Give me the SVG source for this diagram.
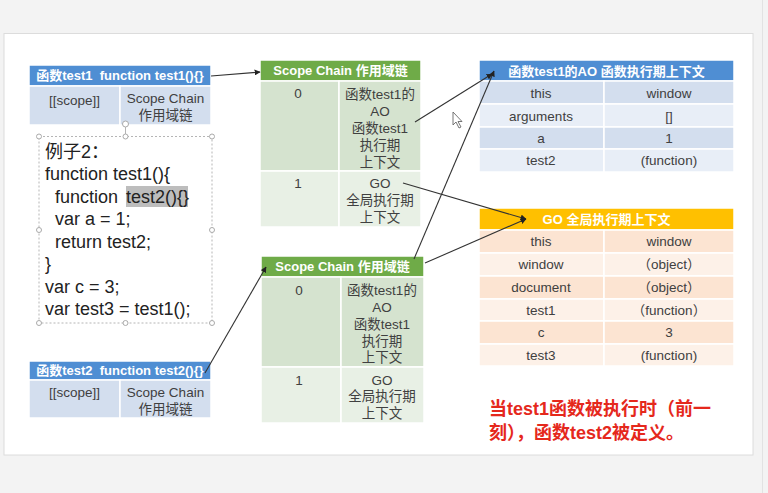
<svg xmlns="http://www.w3.org/2000/svg" width="768" height="493" viewBox="0 0 768 493">
<defs>
<marker id="ah" viewBox="0 0 10 10" refX="9" refY="5" markerWidth="6" markerHeight="6" markerUnits="userSpaceOnUse" orient="auto">
<path d="M0,0 L10,5 L0,10 Z" fill="#222"/>
</marker>
<style>
text{font-family:"Liberation Sans","Noto Sans CJK SC",sans-serif;}
.hd{fill:#fff;font-weight:bold;font-size:13px;text-anchor:middle;}
.bd{fill:#404040;font-size:13.5px;text-anchor:middle;}
.cell{stroke:#fff;stroke-width:1.5;}
.blueH{fill:#4f8ed3;}
.blueB{fill:#d3deee;}
.blueL{fill:#e8eef7;}
.greenH{fill:#6fab48;}
.green0{fill:#d5e3cf;}
.green1{fill:#e8f0e5;}
.orangeH{fill:#ffc000;}
.or0{fill:#fce4d2;}
.or1{fill:#fdf1e8;}
.code{fill:#222;font-size:18px;}
.conn{stroke:#333;stroke-width:1.1;fill:none;marker-end:url(#ah);}
.hdl{fill:#fff;stroke:#aaa;stroke-width:1;}
.red{fill:#e5281c;font-size:18px;font-weight:bold;}
</style>
</defs>
<rect x="0" y="0" width="768" height="493" fill="#f3f3f3"/>
<rect x="4" y="33.5" width="749" height="421.5" fill="#fff" stroke="#dcdcdc" stroke-width="1"/>
<line x1="762.5" y1="0" x2="762.5" y2="493" stroke="#e2e2e2" stroke-width="1"/>

<g id="func-test1">
<rect class="cell blueH" x="29" y="65" width="182" height="21"/>
<text class="hd" x="120" y="80">函数test1&#160;&#160;function test1(){}</text>
<rect class="cell blueB" x="29" y="86" width="91" height="39"/>
<rect class="cell blueB" x="120" y="86" width="91" height="39"/>
<text class="bd" x="74.5" y="105" font-size="13">[[scope]]</text>
<text class="bd" x="165.5" y="103" font-size="13">Scope Chain</text>
<text class="bd" x="165.5" y="120" font-size="13">作用域链</text>
</g>

<g id="code-box">
<rect x="39" y="136.5" width="173" height="186.5" fill="none" stroke="#b5b5b5" stroke-width="1" stroke-dasharray="2,2"/>
<line x1="125.5" y1="127" x2="125.5" y2="136.5" stroke="#b5b5b5" stroke-width="1"/>
<circle class="hdl" cx="125.5" cy="124" r="3"/>
<circle class="hdl" cx="39" cy="136.5" r="2.5"/>
<circle class="hdl" cx="125.5" cy="136.5" r="2.5"/>
<circle class="hdl" cx="212" cy="136.5" r="2.5"/>
<circle class="hdl" cx="39" cy="230" r="2.5"/>
<circle class="hdl" cx="212" cy="230" r="2.5"/>
<circle class="hdl" cx="39" cy="323" r="2.5"/>
<circle class="hdl" cx="125.5" cy="323" r="2.5"/>
<circle class="hdl" cx="212" cy="323" r="2.5"/>
<rect x="126" y="186" width="62" height="21" fill="#bdbdbd"/>
<text class="code" x="45" y="158">例子2：</text>
<text class="code" x="45" y="180">function test1(){</text>
<text class="code" x="55" y="203">function <tspan x="126">test2(){}</tspan></text>
<text class="code" x="55" y="225">var a = 1;</text>
<text class="code" x="55" y="248">return test2;</text>
<text class="code" x="45" y="270">}</text>
<text class="code" x="45" y="293">var c = 3;</text>
<text class="code" x="45" y="315">var test3 = test1();</text>
</g>

<g id="func-test2">
<rect class="cell blueH" x="29" y="361" width="182" height="19"/>
<text class="hd" x="120" y="375">函数test2&#160;&#160;function test2(){}</text>
<rect class="cell blueB" x="29" y="380" width="91" height="38"/>
<rect class="cell blueB" x="120" y="380" width="91" height="38"/>
<text class="bd" x="74.5" y="397" font-size="13">[[scope]]</text>
<text class="bd" x="165.5" y="397" font-size="13">Scope Chain</text>
<text class="bd" x="165.5" y="414" font-size="13">作用域链</text>
</g>

<g id="scope-chain-1">
<rect class="cell greenH" x="260" y="60" width="161" height="21"/>
<text class="hd" x="340.5" y="75">Scope Chain 作用域链</text>
<rect class="cell green0" x="260" y="81" width="79" height="90"/>
<rect class="cell green0" x="339" y="81" width="82" height="90"/>
<rect class="cell green1" x="260" y="171" width="79" height="56"/>
<rect class="cell green1" x="339" y="171" width="82" height="56"/>
<text class="bd" x="298" y="98">0</text>
<text class="bd" x="380" y="99">函数test1的</text>
<text class="bd" x="380" y="116">AO</text>
<text class="bd" x="380" y="133">函数test1</text>
<text class="bd" x="380" y="150">执行期</text>
<text class="bd" x="380" y="167">上下文</text>
<text class="bd" x="298" y="188">1</text>
<text class="bd" x="380" y="188">GO</text>
<text class="bd" x="380" y="205">全局执行期</text>
<text class="bd" x="380" y="222">上下文</text>
</g>

<g id="scope-chain-2">
<rect class="cell greenH" x="261" y="256" width="163" height="21"/>
<text class="hd" x="342.5" y="271">Scope Chain 作用域链</text>
<rect class="cell green0" x="261" y="277" width="80" height="90"/>
<rect class="cell green0" x="341" y="277" width="83" height="90"/>
<rect class="cell green1" x="261" y="367" width="80" height="56"/>
<rect class="cell green1" x="341" y="367" width="83" height="56"/>
<text class="bd" x="299" y="295">0</text>
<text class="bd" x="382" y="295">函数test1的</text>
<text class="bd" x="382" y="312">AO</text>
<text class="bd" x="382" y="329">函数test1</text>
<text class="bd" x="382" y="346">执行期</text>
<text class="bd" x="382" y="362">上下文</text>
<text class="bd" x="299" y="385">1</text>
<text class="bd" x="382" y="385">GO</text>
<text class="bd" x="382" y="401">全局执行期</text>
<text class="bd" x="382" y="418">上下文</text>
</g>

<g id="ao-test1">
<rect class="cell blueH" x="479" y="60" width="255" height="21"/>
<text class="hd" x="606.5" y="76" font-size="14">函数test1的AO 函数执行期上下文</text>
<rect class="cell blueB" x="479" y="81" width="125" height="23"/>
<rect class="cell blueB" x="604" y="81" width="130" height="23"/>
<rect class="cell blueL" x="479" y="104" width="125" height="23"/>
<rect class="cell blueL" x="604" y="104" width="130" height="23"/>
<rect class="cell blueB" x="479" y="127" width="125" height="22"/>
<rect class="cell blueB" x="604" y="127" width="130" height="22"/>
<rect class="cell blueL" x="479" y="149" width="125" height="23"/>
<rect class="cell blueL" x="604" y="149" width="130" height="23"/>
<text class="bd" x="541" y="98" font-size="14">this</text>
<text class="bd" x="669" y="98" font-size="14">window</text>
<text class="bd" x="541" y="121" font-size="14">arguments</text>
<text class="bd" x="669" y="121" font-size="14">[]</text>
<text class="bd" x="541" y="143" font-size="14">a</text>
<text class="bd" x="669" y="143" font-size="14">1</text>
<text class="bd" x="541" y="165" font-size="14">test2</text>
<text class="bd" x="669" y="165" font-size="14">(function)</text>
</g>

<g id="go">
<rect class="cell orangeH" x="479" y="208" width="255" height="22"/>
<text class="hd" x="606.5" y="224" font-size="15">GO 全局执行期上下文</text>
<rect class="cell or0" x="479" y="230" width="125" height="23"/>
<rect class="cell or0" x="604" y="230" width="130" height="23"/>
<rect class="cell or1" x="479" y="253" width="125" height="23"/>
<rect class="cell or1" x="604" y="253" width="130" height="23"/>
<rect class="cell or0" x="479" y="276" width="125" height="23"/>
<rect class="cell or0" x="604" y="276" width="130" height="23"/>
<rect class="cell or1" x="479" y="299" width="125" height="22"/>
<rect class="cell or1" x="604" y="299" width="130" height="22"/>
<rect class="cell or0" x="479" y="321" width="125" height="23"/>
<rect class="cell or0" x="604" y="321" width="130" height="23"/>
<rect class="cell or1" x="479" y="344" width="125" height="22"/>
<rect class="cell or1" x="604" y="344" width="130" height="22"/>
<text class="bd" x="541" y="246" font-size="14">this</text>
<text class="bd" x="669" y="246" font-size="14">window</text>
<text class="bd" x="541" y="269" font-size="14">window</text>
<text class="bd" x="669" y="269" font-size="14">（object）</text>
<text class="bd" x="541" y="292" font-size="14">document</text>
<text class="bd" x="669" y="292" font-size="14">（object）</text>
<text class="bd" x="541" y="315" font-size="14">test1</text>
<text class="bd" x="669" y="315" font-size="14">（function）</text>
<text class="bd" x="541" y="337" font-size="14">c</text>
<text class="bd" x="669" y="337" font-size="14">3</text>
<text class="bd" x="541" y="360" font-size="14">test3</text>
<text class="bd" x="669" y="360" font-size="14">(function)</text>
</g>

<g id="note">
<text class="red" x="489" y="415">当test1函数被执行时（前一</text>
<text class="red" x="489" y="439">刻），函数test2被定义。</text>
</g>

<g id="connectors">
<line class="conn" x1="211" y1="76" x2="260" y2="72"/>
<line class="conn" x1="415" y1="122" x2="492" y2="74"/>
<line class="conn" x1="403" y1="183" x2="526" y2="219"/>
<line class="conn" x1="205" y1="373" x2="266" y2="267"/>
<line class="conn" x1="414" y1="259" x2="494" y2="71"/>
<line class="conn" x1="425" y1="263" x2="526" y2="219"/>
</g>

<path d="M453,112 L453,125 L456,122 L459,128 L461,127 L458,121.5 L462,121.5 Z" fill="#fff" stroke="#666" stroke-width="0.9"/>
</svg>
